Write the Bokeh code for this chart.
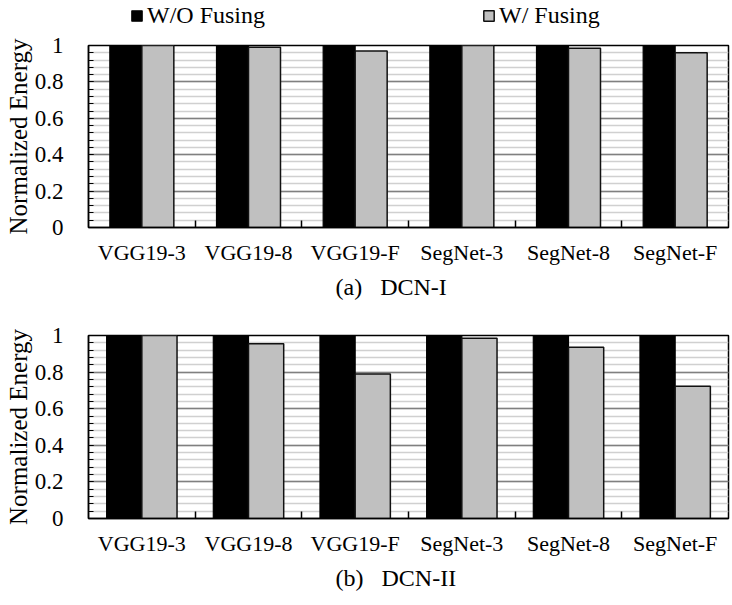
import numpy as np
from bokeh.plotting import figure
from bokeh.layouts import column
from bokeh.models import (FixedTicker, CustomJSTickFormatter, Range1d, Legend,
                          LegendItem, Title)
from bokeh.embed import file_html
from bokeh.resources import INLINE

# ---- data ----
categories = ["VGG19-3", "VGG19-8", "VGG19-F", "SegNet-3", "SegNet-8", "SegNet-F"]
series_names = ["W/O Fusing", "W/ Fusing"]
dcn1_wo = [1.0, 1.0, 1.0, 1.0, 1.0, 1.0]
dcn1_w = [1.0, 0.99, 0.97, 1.0, 0.985, 0.96]
dcn2_wo = [1.0, 1.0, 1.0, 1.0, 1.0, 1.0]
dcn2_w = [1.0, 0.955, 0.79, 0.985, 0.936, 0.723]
y_ticks = [0, 0.2, 0.4, 0.6, 0.8, 1.0]
y_minor_ticks = [0, 0.04, 0.08, 0.12, 0.16, 0.2, 0.24, 0.28, 0.32, 0.36, 0.4,
                 0.44, 0.48, 0.52, 0.56, 0.6, 0.64, 0.68, 0.72, 0.76, 0.8,
                 0.84, 0.88, 0.92, 0.96, 1.0]
captions = ["(a)\u00a0\u00a0\u00a0DCN-I", "(b)\u00a0\u00a0\u00a0DCN-II"]
y_label = "Normalized Energy"

FONT = "Liberation Serif"
BLACK = "#000000"
GRAY = "#c0c0c0"
BAR_STYLES = [dict(fill_color=BLACK, line_color=BLACK, line_width=1.2),
              dict(fill_color=GRAY, line_color="#111111", line_width=1.5)]


def make_legend_fig():
    # strip that carries only the shared legend; its (hidden) renderers use
    # the DCN-I data so the legend glyphs get the series styles
    idx = np.arange(len(categories))
    p = figure(width=732, height=30, title=None, toolbar_location=None,
               output_backend="svg", x_axis_location=None, y_axis_location=None,
               x_range=Range1d(-0.5, len(categories) - 0.5), y_range=Range1d(0, 1),
               min_border_left=88, min_border_right=4, min_border_top=0,
               min_border_bottom=0, outline_line_color=None)
    p.grid.visible = False
    rs = [p.vbar(x=idx - 0.15, top=dcn1_wo, width=0.3, visible=False, **BAR_STYLES[0]),
          p.vbar(x=idx + 0.15, top=dcn1_w, width=0.3, visible=False, **BAR_STYLES[1])]
    lg = Legend(items=[LegendItem(label=n, renderers=[r]) for n, r in zip(series_names, rs)],
                orientation="horizontal", location=(42, 1), spacing=217,
                glyph_width=13, glyph_height=13, label_standoff=4,
                label_text_font=FONT, label_text_font_size="24px",
                label_text_font_style="normal",
                label_text_color="black", padding=0, margin=0,
                inactive_fill_alpha=0,
                border_line_color=None, background_fill_alpha=0)
    p.add_layout(lg, "center")
    return p


def make_panel(wo, w, bar_w, caption, height, b_top, b_bottom):
    idx = np.arange(len(categories))
    p = figure(width=732, height=height, title=None, toolbar_location=None,
               output_backend="svg", x_range=Range1d(-0.5, len(categories) - 0.5),
               y_range=Range1d(0, 1), min_border_left=88, min_border_right=4,
               min_border_top=b_top, min_border_bottom=b_bottom)
    p.vbar(x=idx - bar_w / 2, top=wo, width=bar_w, **BAR_STYLES[0])
    p.vbar(x=idx + bar_w / 2, top=w, width=bar_w, **BAR_STYLES[1])

    p.outline_line_color = "black"
    p.outline_line_width = 1.5
    p.background_fill_color = "white"

    # x axis
    xa = p.xaxis[0]
    xa.ticker = FixedTicker(ticks=list(idx), minor_ticks=list(idx[:-1] + 0.5))
    xa.formatter = CustomJSTickFormatter(args=dict(labels=categories),
                                         code="return labels[Math.round(tick)];")
    xa.major_tick_in = 0
    xa.major_tick_out = 0
    xa.minor_tick_in = 7
    xa.minor_tick_out = 0
    xa.minor_tick_line_width = 1.5
    xa.minor_tick_line_color = "black"
    xa.axis_line_color = "black"
    xa.axis_line_width = 1.5
    xa.major_label_text_font = FONT
    xa.major_label_text_font_size = "22px"
    xa.major_label_text_color = "black"
    xa.major_label_standoff = 12

    # y axis
    ya = p.yaxis[0]
    ya.ticker = FixedTicker(ticks=y_ticks, minor_ticks=y_minor_ticks)
    ya.formatter = CustomJSTickFormatter(code="return String(Number(tick.toFixed(2)));")
    ya.major_tick_in = 5
    ya.major_tick_out = 0
    ya.minor_tick_in = 5
    ya.minor_tick_out = 0
    ya.major_tick_line_color = "black"
    ya.minor_tick_line_color = "black"
    ya.axis_line_color = "black"
    ya.axis_line_width = 1.5
    ya.major_label_text_font = FONT
    ya.major_label_text_font_size = "23px"
    ya.major_label_text_color = "black"
    ya.major_label_standoff = 25
    ya.axis_label = y_label
    ya.axis_label_text_font = FONT
    ya.axis_label_text_font_size = "25px"
    ya.axis_label_text_font_style = "normal"
    ya.axis_label_text_color = "black"
    ya.axis_label_standoff = 0

    p.xgrid.grid_line_color = None
    p.ygrid.ticker = ya.ticker
    p.ygrid.grid_line_color = "#808080"
    p.ygrid.grid_line_width = 1.5
    p.ygrid.minor_grid_line_color = "#d0d0d0"
    p.ygrid.minor_grid_line_width = 1.5

    t = Title(text=caption, align="left", offset=247, text_font=FONT,
              text_font_size="24px", text_font_style="normal",
              text_color="black", standoff=8)
    p.add_layout(t, "below")
    return p


p0 = make_legend_fig()
p1 = make_panel(dcn1_wo, dcn1_w, 0.3, captions[0], 278, 15, 81)
p2 = make_panel(dcn2_wo, dcn2_w, 0.33, captions[1], 297, 27, 87)

p = column(p0, p1, p2, spacing=0)
open("out.html", "w").write(file_html(p, INLINE))
